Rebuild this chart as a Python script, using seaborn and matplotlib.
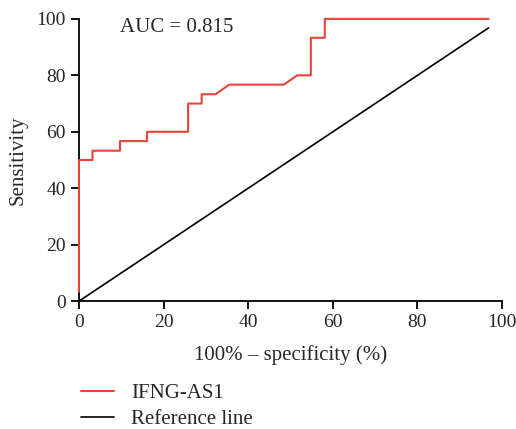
import seaborn as sns
import matplotlib.pyplot as plt
import pandas as pd
import numpy as np

# ROC curve points (100% - specificity, sensitivity)
fpr = [0.0, 0.0, 3.2, 3.2, 9.7, 9.7, 16.1, 16.1, 25.8, 25.8, 29.0, 29.0, 32.3,
       35.5, 48.4, 51.6, 54.8, 54.8, 58.1, 58.1, 96.8]
tpr = [3.3, 50.0, 50.0, 53.3, 53.3, 56.7, 56.7, 60.0, 60.0, 70.0, 70.0, 73.3, 73.3,
       76.7, 76.7, 80.0, 80.0, 93.3, 93.3, 100.0, 100.0]
ref_x = [0.0, 96.8]
ref_y = [0.0, 96.8]
auc_text = "AUC = 0.815"

sns.set_style("ticks")
plt.rcParams["font.family"] = ["Liberation Serif", "DejaVu Serif"]
plt.rcParams["font.size"] = 14

roc = pd.DataFrame({"x": fpr, "y": tpr, "series": "IFNG-AS1"})
ref = pd.DataFrame({"x": ref_x, "y": ref_y, "series": "Reference line"})

fig = plt.figure(figsize=(5.16, 4.29), dpi=100)
ax = fig.add_axes([0.153, 0.298, 0.820, 0.658])

sns.lineplot(data=roc, x="x", y="y", color="#e8433a", lw=1.5, sort=False,
             estimator=None, ax=ax, label="IFNG-AS1", clip_on=False, zorder=4)
sns.lineplot(data=ref, x="x", y="y", color="black", lw=1.2, sort=False,
             estimator=None, ax=ax, label="Reference line", clip_on=False, zorder=3)

ax.set_xlim(0, 100)
ax.set_ylim(0, 100)
ax.set_xticks(np.arange(0, 101, 20))
ax.set_yticks(np.arange(0, 101, 20))
ax.set_xlabel("100% \u2013 specificity (%)", fontsize=15, labelpad=10)
ax.set_ylabel("Sensitivity", fontsize=15, labelpad=6)
ax.tick_params(direction="out", length=6, width=1.3, labelsize=14, color="black")
for s in ["left", "bottom"]:
    ax.spines[s].set_linewidth(1.3)
    ax.spines[s].set_color("black")
sns.despine(ax=ax)
ax.text(9.7, 97, auc_text, fontsize=15, va="center", ha="left")

h, l = ax.get_legend_handles_labels()
ax.get_legend().remove()
fig.legend(h, l, loc="upper left", bbox_to_anchor=(0.137, 0.13), frameon=False,
           fontsize=15, handlelength=1.6, handletextpad=0.8, labelspacing=0.3,
           borderpad=0)

fig.savefig("out.png", dpi=100)
